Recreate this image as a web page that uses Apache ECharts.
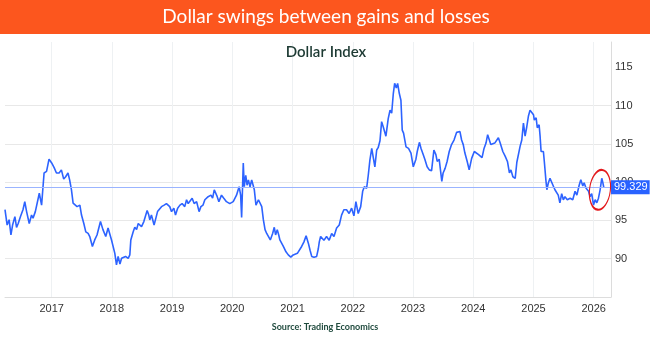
<!DOCTYPE html>
<html><head><meta charset="utf-8">
<script src="https://cdn.jsdelivr.net/npm/echarts@6/dist/echarts.min.js"></script>
<style>html,body{margin:0;padding:0;background:#fff}#c{width:650px;height:343px}</style>
</head><body><div id="c"></div>
<script>
const titleText = 'Dollar swings between gains and losses';
const subtitleText = 'Dollar Index';
const sourceText = 'Source: Trading Economics';

const dates = [
'2016-03-24','2016-04-06','2016-04-18','2016-04-29','2016-05-09','2016-05-23','2016-06-02','2016-06-12','2016-06-26','2016-07-11',
'2016-07-22','2016-08-02','2016-08-18','2016-09-01','2016-09-10','2016-09-24','2016-10-05','2016-10-18','2016-11-01','2016-11-16',
'2016-12-01','2016-12-16','2017-01-01','2017-01-16','2017-01-30','2017-02-15','2017-03-01','2017-03-15','2017-03-27','2017-04-10',
'2017-04-20','2017-05-01','2017-05-11','2017-05-21','2017-06-04','2017-06-21','2017-07-01','2017-07-15','2017-07-27','2017-08-10',
'2017-08-20','2017-09-05','2017-09-19','2017-10-03','2017-10-24','2017-11-08','2017-11-25','2017-12-09','2017-12-30','2018-01-19',
'2018-01-29','2018-02-08','2018-02-19','2018-03-01','2018-03-10','2018-03-25','2018-04-10','2018-04-20','2018-04-26','2018-05-10',
'2018-05-20','2018-05-31','2018-06-10','2018-06-20','2018-06-30','2018-07-14','2018-07-24','2018-08-03','2018-08-13','2018-08-19',
'2018-08-29','2018-09-14','2018-09-25','2018-10-05','2018-10-14','2018-10-29','2018-11-14','2018-11-28','2018-12-08','2018-12-18',
'2018-12-29','2019-01-12','2019-01-22','2019-02-04','2019-02-18','2019-03-03','2019-03-19','2019-03-30','2019-04-09','2019-04-19',
'2019-05-03','2019-05-15','2019-05-30','2019-06-14','2019-06-25','2019-07-08','2019-07-19','2019-07-29','2019-08-08','2019-08-25',
'2019-09-04','2019-09-14','2019-09-24','2019-10-02','2019-10-12','2019-10-28','2019-11-11','2019-11-27','2019-12-07','2019-12-17',
'2019-12-27','2020-01-07','2020-01-17','2020-01-27','2020-02-06','2020-02-12','2020-02-21','2020-02-27','2020-03-08','2020-03-14',
'2020-03-23','2020-03-31','2020-04-08','2020-04-18','2020-04-28','2020-05-04','2020-05-14','2020-05-24','2020-06-08','2020-06-18',
'2020-06-28','2020-07-08','2020-07-18','2020-07-28','2020-08-07','2020-08-19','2020-09-02','2020-09-12','2020-09-20','2020-09-30',
'2020-10-09','2020-10-16','2020-10-27','2020-11-06','2020-11-22','2020-12-06','2020-12-21','2021-01-05','2021-01-16','2021-01-30',
'2021-02-11','2021-02-25','2021-03-11','2021-03-24','2021-04-07','2021-04-17','2021-04-27','2021-05-11','2021-05-27','2021-06-06',
'2021-06-12','2021-06-20','2021-07-10','2021-07-26','2021-08-11','2021-08-26','2021-09-09','2021-09-25','2021-10-11','2021-10-25',
'2021-11-08','2021-11-24','2021-12-10','2021-12-25','2022-01-08','2022-01-20','2022-02-03','2022-02-18','2022-03-02','2022-03-12',
'2022-03-26','2022-04-05','2022-04-15','2022-04-26','2022-05-05','2022-05-15','2022-05-26','2022-06-04','2022-06-15','2022-06-25',
'2022-07-05','2022-07-21','2022-08-04','2022-08-15','2022-08-25','2022-09-04','2022-09-12','2022-09-22','2022-09-30','2022-10-10',
'2022-10-20','2022-10-28','2022-11-05','2022-11-20','2022-12-05','2022-12-20','2023-01-03','2023-01-19','2023-01-27','2023-02-09',
'2023-02-19','2023-03-04','2023-03-14','2023-03-28','2023-04-10','2023-04-24','2023-05-08','2023-05-20','2023-05-28','2023-06-09',
'2023-06-25','2023-07-03','2023-07-15','2023-07-27','2023-08-09','2023-08-23','2023-09-07','2023-09-23','2023-10-03','2023-10-13',
'2023-10-23','2023-11-02','2023-11-12','2023-11-26','2023-12-08','2023-12-23','2024-01-08','2024-01-20','2024-02-03','2024-02-12',
'2024-02-24','2024-03-07','2024-03-19','2024-03-29','2024-04-08','2024-04-17','2024-04-29','2024-05-11','2024-05-23','2024-06-02',
'2024-06-13','2024-06-29','2024-07-13','2024-07-27','2024-08-08','2024-08-17','2024-08-29','2024-09-12','2024-09-22','2024-10-12',
'2024-10-22','2024-11-01','2024-11-11','2024-11-21','2024-12-01','2024-12-11','2024-12-21','2025-01-01','2025-01-06','2025-01-17',
'2025-01-24','2025-02-04','2025-02-10','2025-02-16','2025-03-02','2025-03-08','2025-03-17','2025-03-23','2025-04-01','2025-04-11',
'2025-04-21','2025-05-01','2025-05-11','2025-05-21','2025-05-31','2025-06-10','2025-06-21','2025-07-01','2025-07-11','2025-07-25',
'2025-08-11','2025-08-27','2025-09-10','2025-09-21','2025-10-05','2025-10-15','2025-10-27','2025-11-04','2025-11-16','2025-12-01',
'2025-12-10','2025-12-20','2025-12-31','2026-01-10','2026-01-20','2026-01-30','2026-02-09','2026-02-19','2026-02-25','2026-03-03'
];
const values = [
96.4,94.4,95.1,93.1,94.4,95.5,94.1,94.6,95.5,96.4,
97.45,96.15,94.6,95.7,95.3,96.15,96.0,98.55,97.0,101.2,
101.4,103.0,102.5,101.9,101.2,101.2,101.6,100.4,100.7,101.2,
100.3,99.0,97.25,97.25,96.8,97.0,95.7,94.6,93.5,93.3,
92.9,91.6,92.45,93.1,94.85,93.8,92.9,94.0,92.45,90.7,
89.2,90.3,89.3,90.05,89.8,90.3,90.05,90.5,92.45,93.5,
94.1,93.8,94.6,94.85,94.2,94.85,95.07,96.3,95.7,95.07,
95.7,94.4,95.3,96.15,95.9,96.8,97.0,97.2,97.45,96.8,
96.15,96.6,95.7,96.6,97.0,97.2,96.8,97.7,97.2,97.45,
97.9,97.2,97.45,96.15,96.8,97.0,97.7,97.45,98.1,98.3,
97.9,99.0,99.0,98.1,97.45,98.3,97.9,97.45,97.7,97.2,
97.0,97.45,97.7,98.3,99.0,99.4,98.3,95.4,102.5,99.4,
100.9,99.6,100.3,99.4,100.3,100.4,99.0,97.0,97.7,97.45,
96.8,95.07,93.8,93.3,93.1,92.45,93.3,94.1,93.1,93.8,
93.1,92.45,92.2,91.6,90.9,90.5,90.2,90.5,90.3,90.7,
90.5,91.6,92.2,93.0,92.0,91.1,90.3,90.2,90.3,91.3,
92.2,92.9,92.4,92.9,92.4,93.3,92.9,94.0,94.4,95.7,
96.4,96.4,95.9,96.6,95.6,97.45,95.9,96.8,98.8,99.4,
99.2,100.9,102.9,104.4,104.2,102.0,104.2,104.5,105.4,107.9,
107.2,106.0,108.3,109.4,109.0,111.6,112.9,112.3,112.9,111.6,
110.7,106.8,106.4,104.6,104.4,103.8,102.0,103.0,104.0,105.2,
104.4,103.6,103.0,102.0,101.6,101.5,104.2,103.6,102.7,103.0,
100.1,101.2,101.8,102.7,104.0,104.9,105.5,106.5,106.4,106.6,
105.5,104.9,103.8,102.7,101.6,103.1,104.0,104.0,103.6,103.4,
103.2,104.4,105.1,106.2,106.0,104.9,104.7,105.1,105.3,105.8,
105.1,104.0,103.4,102.7,101.2,101.6,100.7,100.5,102.6,104.7,
105.5,107.7,106.0,107.2,108.6,109.4,109.65,108.8,108.1,108.4,
107.1,107.5,106.0,104.0,104.0,102.6,100.3,99.0,99.9,100.5,
100.7,99.5,99.0,99.2,98.3,97.3,98.5,97.7,98.1,97.7,
97.9,97.7,98.8,98.3,99.6,100.3,99.5,99.9,99.2,98.8,
98.1,98.5,97.0,97.7,97.3,97.9,99.0,100.5,100.0,99.329
];
const yearTicks = ['2017-01-01','2018-01-01','2019-01-01','2020-01-01','2021-01-01','2022-01-01','2023-01-01','2024-01-01','2025-01-01','2026-01-01'];
const yTicks = [85, 90, 95, 100, 105, 110, 115];
const yLabels = [90, 95, 100, 105, 110, 115];
const xRange = ['2016-03-24', '2026-04-16'];
const yRange = [85, 118.3];
const highlight = ['2026-02-08', 99.0];

const ts = s => Date.parse(s + 'T00:00:00Z');
const lastValue = values[values.length - 1];
const seriesData = dates.map((d, i) => [ts(d), values[i]]);
const yearTickTs = yearTicks.map(ts);

const chart = echarts.init(document.getElementById('c'), null, {renderer: 'canvas'});
const axisFont = '"Liberation Sans", Arial, sans-serif';

function headerGraphics(extra) {
  const g = [
    {type: 'rect', x: 0, y: 0, shape: {x: 0, y: 0, width: 650, height: 34}, style: {fill: '#fc561e'}, z: 10},
    {type: 'text', x: 326, y: 17, style: {text: titleText, fill: '#ffffff', font: '400 19px Lato, "Open Sans", sans-serif', textAlign: 'center', textVerticalAlign: 'middle'}, z: 11},
    {type: 'text', x: 326, y: 52, style: {text: subtitleText, fill: '#1d3a33', font: '600 15px Lato, "Noto Sans", sans-serif', textAlign: 'center', textVerticalAlign: 'middle'}, z: 11},
    {type: 'text', x: 325, y: 327, style: {text: sourceText, fill: '#1f4a3d', font: '700 9px Lato, "Noto Sans", sans-serif', textAlign: 'center', textVerticalAlign: 'middle'}, z: 11}
  ];
  return extra ? g.concat(extra) : g;
}

const option = {
  animation: false,
  backgroundColor: '#ffffff',
  grid: {left: 5, right: 39, top: 42, bottom: 46, containLabel: false},
  xAxis: {
    type: 'value',
    min: ts(xRange[0]), max: ts(xRange[1]),
    axisLine: {show: true, lineStyle: {color: '#dddddd', width: 1}},
    axisTick: {show: false, customValues: yearTickTs},
    splitLine: {show: true, lineStyle: {color: '#eef1f3', width: 1}},
    axisLabel: {
      customValues: yearTickTs,
      formatter: v => String(new Date(v).getUTCFullYear()),
      color: '#333', fontSize: 11, fontFamily: axisFont, margin: 6
    }
  },
  yAxis: {
    type: 'value', position: 'right',
    min: yRange[0], max: yRange[1],
    axisLine: {show: true, lineStyle: {color: '#dcdcdc', width: 1}},
    axisTick: {show: false, customValues: yTicks},
    splitLine: {show: true, showMaxLine: false, lineStyle: {color: '#e8e8e8', width: 1}},
    axisLabel: {customValues: yLabels, color: '#333', fontSize: 11, fontFamily: axisFont, margin: 4}
  },
  series: [{
    type: 'line',
    data: seriesData,
    showSymbol: false,
    symbol: 'none',
    lineStyle: {color: '#2d63ff', width: 1.6},
    emphasis: {disabled: true},
    z: 3,
    markLine: {
      silent: true,
      symbol: ['none', 'none'],
      emphasis: {disabled: true},
      data: [{
        yAxis: lastValue,
        lineStyle: {color: '#9ab4ff', width: 1, type: 'solid'},
        label: {
          show: true, position: 'end', distance: 0,
          formatter: () => lastValue.toFixed(3),
          color: '#ffffff', backgroundColor: '#2962ff',
          padding: [2, 2, 1, 3], fontSize: 11, fontFamily: axisFont, align: 'left'
        }
      }]
    }
  }],
  graphic: headerGraphics()
};
chart.setOption(option);

const c = chart.convertToPixel({gridIndex: 0}, [ts(highlight[0]), highlight[1]]);
chart.setOption({
  graphic: headerGraphics([
    {type: 'circle', x: c[0], y: c[1], rotation: -0.12, scaleX: 0.52, scaleY: 1,
     shape: {cx: 0, cy: 0, r: 20},
     style: {fill: 'none', stroke: '#e3191c', lineWidth: 1.5, strokeNoScale: true}, z: 12}
  ])
}, {replaceMerge: ['graphic']});
</script>
</body></html>
